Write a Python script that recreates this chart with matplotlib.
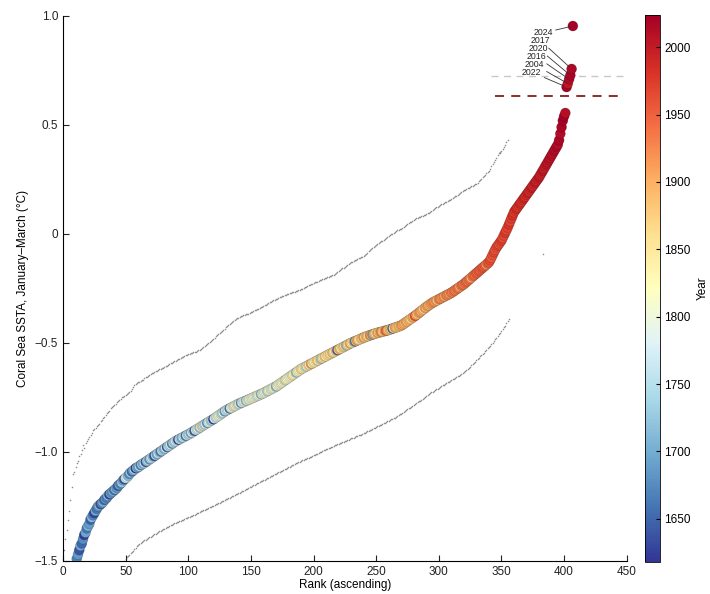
import numpy as np
import matplotlib
matplotlib.use("Agg")
import matplotlib.pyplot as plt

plt.rcParams['font.family'] = ['Liberation Sans', 'DejaVu Sans']

# ranked Coral Sea SSTA (Jan-Mar), lowest to highest
sst = [
    -2.05, -1.94, -1.86, -1.80, -1.75, -1.71, -1.67, -1.63, -1.60, -1.56,
    -1.49, -1.47, -1.45, -1.43, -1.42, -1.40, -1.38, -1.37, -1.35, -1.34,
    -1.33, -1.31, -1.30, -1.29, -1.28, -1.27, -1.26, -1.25, -1.245, -1.24,
    -1.235, -1.23, -1.22, -1.215, -1.21, -1.20, -1.195, -1.19, -1.185, -1.18,
    -1.175, -1.17, -1.165, -1.155, -1.15, -1.145, -1.14, -1.13, -1.125, -1.12,
    -1.115, -1.11, -1.10, -1.095, -1.09, -1.085, -1.08, -1.075, -1.072, -1.07,
    -1.065, -1.06, -1.057, -1.053, -1.05, -1.046, -1.042, -1.038, -1.034, -1.03,
    -1.026, -1.022, -1.018, -1.014, -1.01, -1.006, -1.002, -0.998, -0.994, -0.99,
    -0.986, -0.982, -0.978, -0.974, -0.97, -0.966, -0.962, -0.958, -0.954, -0.95,
    -0.947, -0.944, -0.941, -0.938, -0.935, -0.932, -0.929, -0.926, -0.923, -0.92,
    -0.917, -0.913, -0.91, -0.906, -0.903, -0.899, -0.896, -0.892, -0.889, -0.885,
    -0.881, -0.878, -0.874, -0.871, -0.867, -0.864, -0.86, -0.857, -0.853, -0.85,
    -0.846, -0.842, -0.838, -0.834, -0.83, -0.826, -0.822, -0.818, -0.814, -0.81,
    -0.807, -0.804, -0.801, -0.798, -0.795, -0.792, -0.789, -0.786, -0.783, -0.78,
    -0.778, -0.775, -0.773, -0.77, -0.768, -0.765, -0.763, -0.76, -0.758, -0.755,
    -0.753, -0.75, -0.748, -0.745, -0.743, -0.74, -0.738, -0.735, -0.733, -0.73,
    -0.727, -0.724, -0.721, -0.718, -0.715, -0.712, -0.709, -0.706, -0.703, -0.70,
    -0.696, -0.692, -0.688, -0.684, -0.68, -0.676, -0.672, -0.668, -0.664, -0.66,
    -0.656, -0.652, -0.648, -0.644, -0.64, -0.636, -0.632, -0.628, -0.624, -0.62,
    -0.617, -0.614, -0.611, -0.608, -0.605, -0.602, -0.599, -0.596, -0.593, -0.59,
    -0.587, -0.584, -0.581, -0.578, -0.575, -0.572, -0.569, -0.566, -0.563, -0.56,
    -0.557, -0.554, -0.551, -0.548, -0.545, -0.542, -0.539, -0.536, -0.533, -0.53,
    -0.527, -0.524, -0.521, -0.518, -0.515, -0.512, -0.509, -0.506, -0.503, -0.50,
    -0.498, -0.495, -0.493, -0.49, -0.488, -0.485, -0.483, -0.48, -0.478, -0.475,
    -0.473, -0.471, -0.469, -0.467, -0.465, -0.463, -0.461, -0.459, -0.457, -0.455,
    -0.454, -0.452, -0.451, -0.449, -0.448, -0.446, -0.445, -0.443, -0.442, -0.44,
    -0.438, -0.436, -0.434, -0.432, -0.43, -0.428, -0.426, -0.424, -0.422, -0.42,
    -0.416, -0.412, -0.408, -0.404, -0.40, -0.396, -0.392, -0.388, -0.384, -0.38,
    -0.376, -0.371, -0.367, -0.362, -0.358, -0.353, -0.349, -0.344, -0.34, -0.335,
    -0.331, -0.327, -0.323, -0.319, -0.315, -0.312, -0.309, -0.306, -0.303, -0.30,
    -0.297, -0.294, -0.291, -0.288, -0.285, -0.282, -0.279, -0.276, -0.273, -0.27,
    -0.266, -0.262, -0.258, -0.254, -0.25, -0.246, -0.242, -0.238, -0.234, -0.23,
    -0.225, -0.22, -0.215, -0.21, -0.205, -0.20, -0.195, -0.19, -0.185, -0.18,
    -0.175, -0.17, -0.165, -0.16, -0.155, -0.15, -0.145, -0.14, -0.135, -0.13,
    -0.12, -0.108, -0.096, -0.084, -0.072, -0.062, -0.054, -0.046, -0.038, -0.03,
    -0.018, -0.006, 0.006, 0.018, 0.03, 0.044, 0.058, 0.072, 0.086, 0.10,
    0.108, 0.116, 0.124, 0.132, 0.14, 0.148, 0.156, 0.164, 0.172, 0.18,
    0.188, 0.196, 0.204, 0.212, 0.22, 0.228, 0.236, 0.244, 0.252, 0.26,
    0.27, 0.28, 0.29, 0.30, 0.31, 0.32, 0.33, 0.34, 0.35, 0.36,
    0.37, 0.38, 0.39, 0.40, 0.41, 0.43, 0.46, 0.49, 0.52, 0.54,
    0.555, 0.674, 0.69, 0.71, 0.728, 0.757, 0.954,
]

# year of each ranked value
years = [
    1641, 1625, 1660, 1632, 1678, 1619, 1655, 1690, 1648, 1672,
    1667, 1684, 1638, 1699, 1651, 1676, 1622, 1693, 1662, 1705,
    1686, 1645, 1712, 1670, 1629, 1697, 1658, 1681, 1717, 1636,
    1674, 1702, 1650, 1689, 1665, 1721, 1627, 1695, 1679, 1708,
    1657, 1714, 1683, 1643, 1700, 1668, 1726, 1691, 1634, 1761,
    1786, 1710, 1673, 1735, 1654, 1698, 1742, 1620, 1719, 1687,
    1750, 1664, 1730, 1704, 1766, 1639, 1723, 1756, 1682, 1744,
    1771, 1715, 1631, 1748, 1694, 1780, 1727, 1661, 1753, 1738,
    1706, 1775, 1646, 1762, 1733, 1790, 1671, 1758, 1724, 1796,
    1745, 1626, 1768, 1739, 1703, 1783, 1752, 1659, 1777, 1731,
    1765, 1696, 1800, 1740, 1637, 1773, 1757, 1812, 1718, 1785,
    1882, 1763, 1736, 1795, 1680, 1769, 1806, 1728, 1754, 1624,
    1791, 1747, 1778, 1847, 1803, 1759, 1734, 1817, 1685, 1776,
    1743, 1798, 1652, 1782, 1809, 1760, 1861, 1826, 1770, 1749,
    1814, 1677, 1788, 1767, 1833, 1711, 1793, 1751, 1821, 1772,
    1842, 1804, 1781, 1839, 1755, 1797, 1827, 1709, 1789, 1845,
    1774, 1811, 1732, 1835, 1801, 1764, 1850, 1787, 1819, 1701,
    1808, 1843, 1779, 1856, 1794, 1828, 1746, 1862, 1815, 1799,
    1837, 1784, 1868, 1822, 1807, 1716, 1849, 1831, 1792, 1874,
    1841, 1816, 1859, 1737, 1825, 1880, 1802, 1923, 1834, 1866,
    1810, 1846, 1886, 1820, 1871, 1725, 1857, 1838, 1892, 1813,
    1863, 1848, 1877, 1830, 1898, 1855, 1805, 1883, 1644, 1869,
    1904, 1824, 1860, 1889, 1851, 1713, 1875, 1836, 1910, 1865,
    1818, 1895, 1666, 1881, 1916, 1858, 1829, 1887, 1870, 1922,
    1852, 1901, 1878, 1844, 1928, 1893, 1692, 1907, 1884, 1832,
    1913, 1867, 1899, 1934, 1876, 1854, 1919, 1951, 1905, 1872,
    1896, 1871, 1649, 1840, 1911, 1888, 1864, 1902, 1873, 1917,
    1894, 1908, 1885, 1914, 1879, 1900, 1891, 1857, 1906, 1897,
    1963, 1903, 1877, 1909, 1918, 1887, 1905, 1853, 1915, 1881,
    1921, 1893, 1899, 1910, 1913, 1927, 1901, 1919, 1868, 1924,
    1930, 1907, 1916, 1926, 1886, 1933, 1920, 1928, 1904, 1936,
    1922, 1939, 1929, 1925, 1942, 1931, 1898, 1935, 1945, 1932,
    1938, 1948, 1934, 1943, 1937, 1890, 1940, 1946, 1941, 1954,
    1944, 1957, 1947, 1950, 1960, 1949, 1953, 1912, 1952, 1956,
    1966, 1955, 1959, 1969, 1958, 1962, 1972, 1961, 1965, 1975,
    1964, 1968, 1978, 1967, 1971, 1981, 1970, 1974, 1984, 1973,
    1977, 1987, 1976, 1980, 1990, 1979, 1983, 1993, 1982, 1986,
    1996, 1985, 1989, 1999, 1988, 1992, 2001, 1991, 1995, 2003,
    1994, 1998, 2005, 1997, 2000, 2007, 2002, 2009, 2006, 2011,
    2008, 2013, 2010, 2015, 2012, 2018, 2014, 2019, 2021, 2023,
    2011, 2022, 2004, 2016, 2020, 2017, 2024,
]

# upper bound (grey), ranks 1..355
upper = [
    -1.45, -1.40, -1.36, -1.31, -1.27, -1.22, -1.16, -1.10, -1.09, -1.07,
    -1.05, -1.04, -1.02, -1.01, -0.99, -0.97, -0.98, -0.96, -0.95, -0.94,
    -0.93, -0.92, -0.915, -0.90, -0.895, -0.89, -0.88, -0.875, -0.87, -0.86,
    -0.855, -0.845, -0.84, -0.83, -0.82, -0.815, -0.81, -0.80, -0.795, -0.79,
    -0.785, -0.78, -0.77, -0.765, -0.76, -0.755, -0.75, -0.748, -0.744, -0.74,
    -0.735, -0.73, -0.725, -0.72, -0.71, -0.70, -0.695, -0.69, -0.685, -0.68,
    -0.678, -0.675, -0.672, -0.668, -0.66, -0.657, -0.654, -0.65, -0.646, -0.642,
    -0.639, -0.636, -0.633, -0.63, -0.627, -0.624, -0.621, -0.618, -0.615, -0.613,
    -0.61, -0.607, -0.604, -0.60, -0.597, -0.594, -0.59, -0.587, -0.584, -0.581,
    -0.578, -0.575, -0.572, -0.569, -0.566, -0.563, -0.56, -0.557, -0.554, -0.551,
    -0.549, -0.547, -0.545, -0.543, -0.541, -0.54, -0.538, -0.534, -0.53, -0.526,
    -0.522, -0.518, -0.514, -0.51, -0.506, -0.501, -0.496, -0.491, -0.486, -0.48,
    -0.475, -0.47, -0.465, -0.46, -0.455, -0.45, -0.445, -0.44, -0.434, -0.428,
    -0.422, -0.417, -0.412, -0.407, -0.402, -0.40, -0.395, -0.39, -0.387, -0.384,
    -0.381, -0.378, -0.375, -0.373, -0.371, -0.369, -0.367, -0.365, -0.362, -0.36,
    -0.357, -0.354, -0.351, -0.348, -0.345, -0.342, -0.339, -0.336, -0.333, -0.33,
    -0.327, -0.324, -0.32, -0.317, -0.314, -0.311, -0.308, -0.305, -0.302, -0.299,
    -0.296, -0.293, -0.29, -0.288, -0.285, -0.283, -0.28, -0.278, -0.276, -0.274,
    -0.272, -0.27, -0.268, -0.266, -0.264, -0.262, -0.26, -0.258, -0.256, -0.254,
    -0.251, -0.248, -0.245, -0.242, -0.239, -0.236, -0.233, -0.23, -0.228, -0.225,
    -0.222, -0.22, -0.218, -0.215, -0.213, -0.21, -0.208, -0.205, -0.203, -0.20,
    -0.198, -0.196, -0.194, -0.192, -0.19, -0.186, -0.182, -0.178, -0.174, -0.17,
    -0.166, -0.162, -0.158, -0.154, -0.15, -0.146, -0.142, -0.138, -0.134, -0.13,
    -0.127, -0.124, -0.121, -0.118, -0.115, -0.112, -0.11, -0.107, -0.104, -0.10,
    -0.095, -0.09, -0.085, -0.08, -0.075, -0.07, -0.065, -0.06, -0.055, -0.05,
    -0.046, -0.042, -0.038, -0.034, -0.03, -0.026, -0.022, -0.018, -0.014, -0.01,
    -0.006, -0.002, 0.002, 0.006, 0.01, 0.013, 0.016, 0.019, 0.022, 0.025,
    0.029, 0.033, 0.037, 0.041, 0.045, 0.049, 0.053, 0.057, 0.061, 0.065,
    0.069, 0.072, 0.075, 0.078, 0.08, 0.082, 0.084, 0.086, 0.088, 0.09,
    0.094, 0.098, 0.102, 0.106, 0.11, 0.114, 0.118, 0.122, 0.126, 0.13,
    0.133, 0.136, 0.139, 0.142, 0.145, 0.148, 0.151, 0.154, 0.157, 0.16,
    0.164, 0.168, 0.172, 0.176, 0.18, 0.184, 0.188, 0.192, 0.196, 0.20,
    0.203, 0.206, 0.209, 0.212, 0.215, 0.218, 0.221, 0.224, 0.227, 0.23,
    0.236, 0.242, 0.248, 0.254, 0.26, 0.266, 0.272, 0.278, 0.284, 0.29,
    0.30, 0.31, 0.32, 0.33, 0.34, 0.35, 0.36, 0.37, 0.375, 0.38,
    0.39, 0.40, 0.41, 0.42, 0.43,
]

# lower bound (grey), ranks 46..356
lower_start = 46
lower = [
    -1.52, -1.515, -1.51, -1.50, -1.49,
    -1.484, -1.477, -1.471, -1.464, -1.458, -1.452, -1.445, -1.439, -1.432, -1.426,
    -1.42, -1.416, -1.413, -1.409, -1.406, -1.402, -1.398, -1.395, -1.391, -1.388,
    -1.384, -1.381, -1.377, -1.374, -1.37, -1.367, -1.364, -1.361, -1.358, -1.355,
    -1.352, -1.349, -1.346, -1.343, -1.339, -1.336, -1.333, -1.33, -1.327, -1.325,
    -1.322, -1.32, -1.317, -1.315, -1.312, -1.31, -1.307, -1.305, -1.302, -1.30,
    -1.297, -1.295, -1.292, -1.289, -1.287, -1.284, -1.281, -1.279, -1.276, -1.273,
    -1.271, -1.268, -1.265, -1.263, -1.26, -1.257, -1.254, -1.251, -1.248, -1.246,
    -1.243, -1.24, -1.237, -1.234, -1.232, -1.229, -1.226, -1.223, -1.22, -1.218,
    -1.215, -1.212, -1.21, -1.207, -1.204, -1.201, -1.198, -1.195, -1.192, -1.189,
    -1.186, -1.183, -1.18, -1.177, -1.174, -1.171, -1.168, -1.165, -1.162, -1.159,
    -1.156, -1.153, -1.15, -1.147, -1.144, -1.141, -1.138, -1.135, -1.132, -1.13,
    -1.127, -1.124, -1.121, -1.118, -1.115, -1.112, -1.109, -1.106, -1.103, -1.10,
    -1.097, -1.094, -1.091, -1.088, -1.085, -1.082, -1.079, -1.076, -1.073, -1.07,
    -1.067, -1.064, -1.061, -1.058, -1.055, -1.052, -1.05, -1.047, -1.045, -1.042,
    -1.039, -1.037, -1.034, -1.031, -1.029, -1.026, -1.023, -1.021, -1.018, -1.015,
    -1.012, -1.01, -1.007, -1.004, -1.002, -0.999, -0.996, -0.993, -0.991, -0.988,
    -0.986, -0.983, -0.98, -0.978, -0.975, -0.973, -0.97, -0.968, -0.965, -0.963,
    -0.96, -0.958, -0.955, -0.953, -0.95, -0.948, -0.946, -0.943, -0.941, -0.938,
    -0.936, -0.934, -0.931, -0.929, -0.927, -0.924, -0.922, -0.92, -0.917, -0.915,
    -0.912, -0.909, -0.906, -0.903, -0.90, -0.897, -0.894, -0.891, -0.888, -0.886,
    -0.883, -0.88, -0.877, -0.874, -0.871, -0.868, -0.865, -0.862, -0.859, -0.856,
    -0.853, -0.85, -0.847, -0.844, -0.842, -0.84, -0.836, -0.832, -0.828, -0.824,
    -0.82, -0.816, -0.812, -0.808, -0.804, -0.80, -0.796, -0.792, -0.788, -0.784,
    -0.78, -0.776, -0.772, -0.768, -0.764, -0.76, -0.756, -0.752, -0.748, -0.744,
    -0.74, -0.735, -0.73, -0.727, -0.723, -0.72, -0.716, -0.713, -0.709, -0.706,
    -0.702, -0.699, -0.695, -0.692, -0.688, -0.685, -0.681, -0.678, -0.674, -0.671,
    -0.667, -0.664, -0.66, -0.657, -0.653, -0.65, -0.647, -0.643, -0.64, -0.635,
    -0.63, -0.625, -0.619, -0.613, -0.608, -0.602, -0.597, -0.591, -0.586, -0.58,
    -0.574, -0.568, -0.562, -0.556, -0.55, -0.544, -0.537, -0.531, -0.525, -0.519,
    -0.512, -0.506, -0.50, -0.492, -0.484, -0.476, -0.468, -0.46, -0.452, -0.444,
    -0.436, -0.428, -0.42, -0.41, -0.40, -0.39,
]

# stray grey points
extra_rank = [383, 349]
extra_val = [-0.09, 0.37]

label_years = [2024, 2017, 2020, 2016, 2004, 2022]
dash_light = 0.725
dash_red = 0.633

xticks = [0, 50, 100, 150, 200, 250, 300, 350, 400, 450]
yticks = [-1.5, -1.0, -0.5, 0, 0.5, 1.0]
ytick_labels = ['\u22121.5', '\u22121.0', '\u22120.5', '0', '0.5', '1.0']
cbar_ticks = [1650, 1700, 1750, 1800, 1850, 1900, 1950, 2000]

sst = np.array(sst)
years = np.array(years)
rank = np.arange(1, len(sst) + 1)
up_rank = np.arange(1, len(upper) + 1)
lo_rank = np.arange(lower_start, lower_start + len(lower))

fig = plt.figure(figsize=(7.1, 5.94), dpi=100)
ax = fig.add_axes([0.0887, 0.0556, 0.794, 0.9175])
cax = fig.add_axes([0.908, 0.054, 0.021, 0.921])

grey = '#8c8c8c'
ax.scatter(up_rank, upper, s=5, marker='.', color=grey, linewidths=0)
ax.scatter(lo_rank, lower, s=5, marker='.', color=grey, linewidths=0)
ax.scatter(extra_rank, extra_val, s=5, marker='.', color=grey, linewidths=0)

ax.plot([342, 450], [dash_light, dash_light], ls=(0, (5, 4)), color='#c8c8c8', lw=1.0)
ax.plot([345, 448], [dash_red, dash_red], ls=(0, (5, 4)), color='#8b1a1a', lw=1.3)

sc = ax.scatter(rank, sst, c=years, cmap='RdYlBu_r', vmin=1618, vmax=2024,
                s=52, edgecolors=(0, 0, 0, 0.2), linewidths=0.5, zorder=3)

for i, yr in enumerate(label_years):
    k = int(np.where(years == yr)[0][0])
    ax.annotate(str(yr), xy=(rank[k], sst[k]),
                xytext=(391 - 1.8 * i, 0.922 - 0.036 * i),
                ha='right', va='center', fontsize=6.3, color='#222222',
                arrowprops=dict(arrowstyle='-', color='#333333', lw=0.6,
                                shrinkA=0, shrinkB=2), zorder=4)

ax.set_xlim(0, 450)
ax.set_ylim(-1.5, 1.0)
ax.set_xticks(xticks)
ax.set_yticks(yticks)
ax.set_yticklabels(ytick_labels)
ax.spines['top'].set_visible(False)
ax.spines['right'].set_visible(False)
ax.tick_params(direction='in', length=4, width=0.8, labelsize=8.5, colors='#222222')
ax.set_xlabel('Rank (ascending)', fontsize=8.5, labelpad=1)
ax.set_ylabel('Coral Sea SSTA, January\u2013March (\u00b0C)', fontsize=8.5, labelpad=4)

cb = fig.colorbar(sc, cax=cax, ticks=cbar_ticks)
cb.outline.set_linewidth(0.6)
cb.ax.tick_params(direction='in', length=3, labelsize=8.5)
cb.set_label('Year', fontsize=8.5, labelpad=4)

fig.savefig('out.png', dpi=100)
